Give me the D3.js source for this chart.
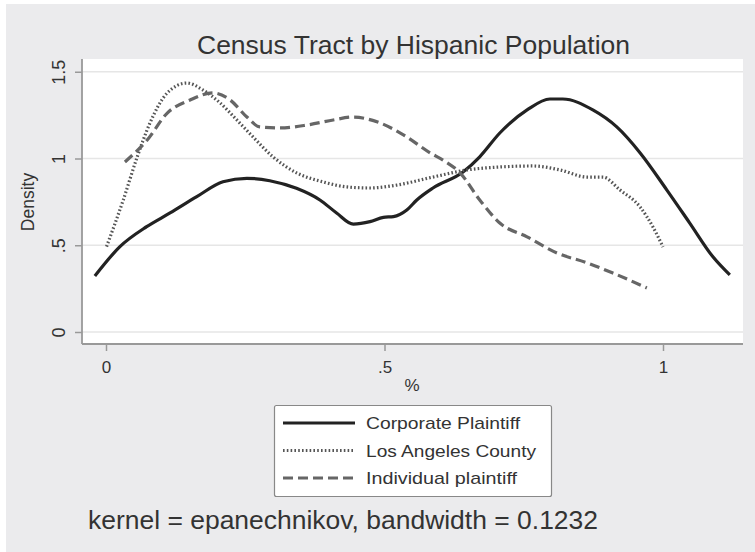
<!DOCTYPE html>
<html><head><meta charset="utf-8">
<script src="https://cdn.jsdelivr.net/npm/d3@7"></script>
<style>
html,body{margin:0;padding:0;background:#fff;}
svg{display:block;font-family:"Liberation Sans",Arial,sans-serif;}
</style></head>
<body><svg id="c" width="755" height="552"></svg>
<script>
// ---- data ----
const title = "Census Tract by Hispanic Population";
const xTicks = [0, 0.5, 1];
const xTickLabels = ["0", ".5", "1"];
const yTicks = [0, 0.5, 1, 1.5];
const yTickLabels = ["0", ".5", "1", "1.5"];
const seriesNames = ["Corporate Plaintiff", "Los Angeles County", "Individual plaintiff"];

const corporateX = [-0.020,0.025,0.073,0.115,0.163,0.210,0.253,0.294,0.342,0.384,0.414,0.444,0.474,0.498,0.516,0.540,0.558,0.587,0.641,0.671,0.707,0.756,0.797,0.820,0.874,0.917,0.959,1.007,1.048,1.090,1.120];
const corporateY = [0.323,0.492,0.607,0.686,0.780,0.866,0.886,0.872,0.828,0.761,0.686,0.622,0.636,0.661,0.665,0.703,0.761,0.830,0.922,1.010,1.147,1.280,1.343,1.343,1.280,1.182,1.032,0.818,0.628,0.432,0.329];

const laX = [0.001,0.031,0.056,0.079,0.110,0.145,0.174,0.205,0.235,0.264,0.300,0.343,0.390,0.433,0.474,0.522,0.587,0.648,0.707,0.767,0.815,0.864,0.892,0.923,0.959,0.982,1.000];
const laY = [0.492,0.761,1.009,1.205,1.378,1.435,1.395,1.320,1.222,1.124,1.009,0.916,0.865,0.836,0.830,0.847,0.893,0.934,0.951,0.957,0.934,0.893,0.893,0.818,0.720,0.605,0.490];

const indivX = [0.034,0.074,0.110,0.151,0.192,0.223,0.253,0.276,0.312,0.361,0.408,0.443,0.492,0.540,0.582,0.605,0.636,0.671,0.707,0.756,0.810,0.864,0.910,0.971];
const indivY = [0.980,1.107,1.262,1.337,1.378,1.337,1.239,1.182,1.176,1.193,1.222,1.239,1.205,1.124,1.032,0.991,0.916,0.761,0.628,0.548,0.455,0.398,0.340,0.254];

const note = "kernel = epanechnikov, bandwidth = 0.1232";

// ---- drawing ----
const svg = d3.select("#c");
const plot = {left: 82, right: 743, top: 59, bottom: 344};

svg.append("rect").attr("x",6).attr("y",4).attr("width",749).attr("height",548).attr("fill","#ebebed");
svg.append("rect").attr("x",plot.left).attr("y",plot.top).attr("width",plot.right-plot.left).attr("height",plot.bottom-plot.top).attr("fill","#fff");

const x = d3.scaleLinear().domain([0,1]).range([106,663]);
const y = d3.scaleLinear().domain([0,1.5]).range([332,71.75]);

// gridlines
svg.append("g").selectAll("line").data(yTicks).join("line")
  .attr("x1",plot.left).attr("x2",plot.right)
  .attr("y1",d=>y(d)).attr("y2",d=>y(d))
  .attr("stroke","#e6e6e6").attr("stroke-width",1.5);

// axes
const yAxis = d3.axisLeft(y).tickValues(yTicks).tickFormat((d,i)=>yTickLabels[i]).tickSize(7).tickPadding(8);
const gy = svg.append("g").attr("transform",`translate(${plot.left},0)`).call(yAxis);
gy.select(".domain").attr("d",`M0,${plot.top}V${plot.bottom}`).attr("stroke","#999").attr("stroke-width",1.8);
gy.selectAll(".tick line").attr("stroke","#999").attr("stroke-width",1.5);
gy.selectAll(".tick text").attr("fill","#333").attr("font-size",18)
  .attr("transform","rotate(-90)").attr("text-anchor","middle")
  .attr("x",0).attr("dy","0").attr("y",-17);

const xAxis = d3.axisBottom(x).tickValues(xTicks).tickFormat((d,i)=>xTickLabels[i]).tickSize(7).tickPadding(10);
const gx = svg.append("g").attr("transform",`translate(0,${plot.bottom})`).call(xAxis);
gx.select(".domain").attr("d",`M${plot.left},0H${plot.right}`).attr("stroke","#999").attr("stroke-width",1.8);
gx.selectAll(".tick line").attr("stroke","#999").attr("stroke-width",1.5);
gx.selectAll(".tick text").attr("fill","#333").attr("font-size",17).attr("dy","0.68em");

// axis titles
svg.append("text").attr("x",412).attr("y",391).attr("text-anchor","middle").attr("font-size",17).attr("fill","#333").text("%");
svg.append("text").attr("transform","translate(34,202) rotate(-90)").attr("text-anchor","middle").attr("font-size",17.5).attr("fill","#333").text("Density");

// title
svg.append("text").attr("x",197).attr("y",54).attr("font-size",25).attr("fill","#333")
  .attr("textLength",433).attr("lengthAdjust","spacingAndGlyphs").text(title);

// lines
const styles = [
  {stroke:"#222", dash:null, xs:corporateX, ys:corporateY},
  {stroke:"#555", dash:"1.6,2.2", xs:laX, ys:laY},
  {stroke:"#666", dash:"10,5", xs:indivX, ys:indivY}
];
const line = d3.line().x(d=>x(d[0])).y(d=>y(d[1])).curve(d3.curveMonotoneX);
styles.forEach(s=>{
  const pts = s.xs.map((v,i)=>[v,s.ys[i]]);
  svg.append("path").attr("d",line(pts)).attr("fill","none")
    .attr("stroke",s.stroke).attr("stroke-width",3.2)
    .attr("stroke-dasharray",s.dash).attr("stroke-linejoin","round");
});

// legend
const legendWidths = [154, 170, 151];
const lg = svg.append("g");
lg.append("rect").attr("x",274.5).attr("y",405.5).attr("width",277).attr("height",91).attr("rx",2)
  .attr("fill","#fff").attr("stroke","#888").attr("stroke-width",1.2);
seriesNames.forEach((n,i)=>{
  const yy = 423 + i*27.5;
  lg.append("line").attr("x1",283).attr("x2",355).attr("y1",yy).attr("y2",yy)
    .attr("stroke",styles[i].stroke).attr("stroke-width",3.2).attr("stroke-dasharray",styles[i].dash);
  lg.append("text").attr("x",366).attr("y",yy+6).attr("font-size",17).attr("fill","#333")
    .attr("textLength",legendWidths[i]).attr("lengthAdjust","spacingAndGlyphs").text(n);
});

// note
svg.append("text").attr("x",88).attr("y",529).attr("font-size",25).attr("fill","#333")
  .attr("textLength",510).attr("lengthAdjust","spacingAndGlyphs").text(note);
</script></body></html>
